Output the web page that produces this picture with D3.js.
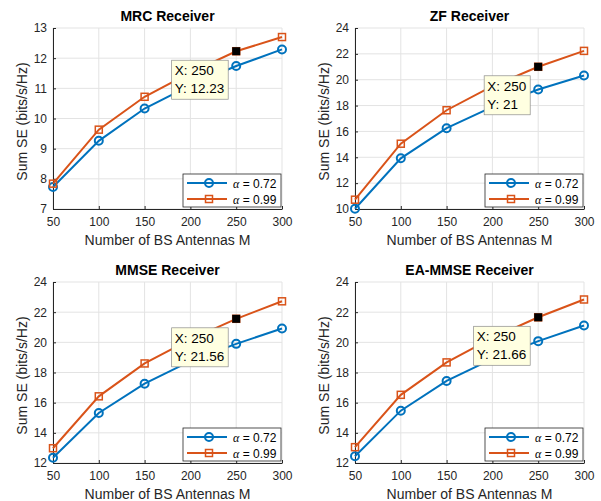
<!DOCTYPE html>
<html lang="en">
<head>
  <meta charset="UTF-8" />
  <title>Sum SE vs BS antennas</title>
  <script src="https://d3js.org/d3.v7.min.js"></script>
  <style>
    body { margin: 0; background: #fff; }
    svg { display: block; font-family: "Liberation Sans", Arial, sans-serif; }
    .tick text { fill: #262626; font-size: 12px; }
    .axis path, .axis line { stroke: #262626; }
    .grid line { stroke: #e3e3e3; }
    .title { font-size: 14px; font-weight: bold; fill: #000; }
    .axis-label { font-size: 14px; fill: #262626; }
  </style>
</head>
<body>
<svg width="601" height="501"></svg>
<script>
  // antenna counts
  const antennas = [50, 100, 150, 200, 250, 300];
  const xTicks = [50, 100, 150, 200, 250, 300];

  // series values
  const mrcA72  = [7.73, 9.26, 10.33, 11.10, 11.74, 12.29];
  const mrcA99  = [7.84, 9.63, 10.72, 11.52, 12.23, 12.70];
  const zfA72   = [10.02, 13.92, 16.25, 17.90, 19.24, 20.33];
  const zfA99   = [10.72, 15.05, 17.64, 19.50, 21.00, 22.23];
  const mmseA72 = [12.35, 15.32, 17.26, 18.75, 19.90, 20.92];
  const mmseA99 = [12.98, 16.42, 18.60, 20.20, 21.56, 22.72];
  const eaA72   = [12.45, 15.47, 17.44, 18.90, 20.08, 21.12];
  const eaA99   = [13.05, 16.52, 18.67, 20.30, 21.66, 22.84];

  const titles = ["MRC Receiver", "ZF Receiver", "MMSE Receiver", "EA-MMSE Receiver"];
  const yDomains = [[7, 13], [10, 24], [12, 24], [12, 24]];
  const yTickSets = [d3.range(7, 14, 1), d3.range(10, 25, 2), d3.range(12, 25, 2), d3.range(12, 25, 2)];
  const seriesSets = [[mrcA72, mrcA99], [zfA72, zfA99], [mmseA72, mmseA99], [eaA72, eaA99]];
  const seriesNames = ["0.72", "0.99"];
  const tipIndex = 4; // data tip on the α = 0.99 curve at M = 250

  const colors = ["#0072BD", "#D95319"];
  const svg = d3.select("svg");

  // plot-area boxes for the 2x2 grid
  const cols = [53, 355], rows = [28, 282];
  const w = 229, h = 181;

  titles.forEach((title, i) => {
    const left = cols[i % 2], top = rows[Math.floor(i / 2)];
    const g = svg.append("g").attr("transform", `translate(${left},${top})`);

    const x = d3.scaleLinear().domain([50, 300]).range([0, w]);
    const y = d3.scaleLinear().domain(yDomains[i]).range([h, 0]);

    // grid
    const grid = g.append("g").attr("class", "grid");
    grid.selectAll(".gx").data(xTicks).enter().append("line")
      .attr("x1", d => x(d)).attr("x2", d => x(d)).attr("y1", 0).attr("y2", h);
    grid.selectAll(".gy").data(yTickSets[i]).enter().append("line")
      .attr("x1", 0).attr("x2", w).attr("y1", d => y(d)).attr("y2", d => y(d));

    // axes (MATLAB style: ticks inside)
    g.append("g").attr("class", "axis")
      .attr("transform", `translate(0,${h})`)
      .call(d3.axisBottom(x).tickValues(xTicks).tickSizeInner(-3).tickSizeOuter(0).tickPadding(8));
    g.append("g").attr("class", "axis")
      .call(d3.axisLeft(y).tickValues(yTickSets[i]).tickFormat(d3.format("d"))
        .tickSizeInner(-3).tickSizeOuter(0).tickPadding(6));

    // title and labels
    g.append("text").attr("class", "title")
      .attr("x", w / 2).attr("y", -7).attr("text-anchor", "middle").text(title);
    g.append("text").attr("class", "axis-label")
      .attr("x", w / 2).attr("y", h + 36).attr("text-anchor", "middle")
      .text("Number of BS Antennas M");
    g.append("text").attr("class", "axis-label")
      .attr("transform", "rotate(-90)")
      .attr("x", -h / 2 - 3).attr("y", -26).attr("text-anchor", "middle")
      .text("Sum SE (bits/s/Hz)");

    const line = d3.line().x((d, k) => x(antennas[k])).y(d => y(d));

    seriesSets[i].forEach((vals, s) => {
      g.append("path").datum(vals)
        .attr("d", line).attr("fill", "none")
        .attr("stroke", colors[s]).attr("stroke-width", 2);
      if (s === 0) {
        g.selectAll(".c" + s).data(vals).enter().append("circle")
          .attr("cx", (d, k) => x(antennas[k])).attr("cy", d => y(d))
          .attr("r", 4).attr("fill", "none")
          .attr("stroke", colors[s]).attr("stroke-width", 2);
      } else {
        g.selectAll(".q" + s).data(vals).enter().append("rect")
          .attr("x", (d, k) => x(antennas[k]) - 3.5).attr("y", d => y(d) - 3.5)
          .attr("width", 7).attr("height", 7).attr("fill", "none")
          .attr("stroke", colors[s]).attr("stroke-width", 1.5);
      }
    });

    // data tip
    const tv = seriesSets[i][1][tipIndex];
    const px = x(antennas[tipIndex]), py = y(tv);
    g.append("rect")
      .attr("x", px - 4).attr("y", py - 4).attr("width", 8).attr("height", 8)
      .attr("fill", "#000");
    const tip = g.append("g");
    const tipLines = ["X: " + antennas[tipIndex], "Y: " + (+tv.toFixed(2))];
    const box = tip.append("rect").attr("fill", "#ffffe1")
      .attr("stroke", "#8c8c8c").attr("stroke-width", 0.7);
    const txt = tipLines.map((t, k) => tip.append("text")
      .attr("font-size", 13.5).attr("fill", "#000")
      .attr("y", py + 24 + k * 18).text(t));
    const tw = d3.max(txt, t => t.node().getComputedTextLength());
    const bx = px - 8 - (tw + 7);
    box.attr("x", bx).attr("y", py + 9).attr("width", tw + 7).attr("height", 39);
    txt.forEach(t => t.attr("x", bx + 3));

    // legend
    const lg = g.append("g").attr("transform", `translate(${w - 99},${h - 35})`);
    lg.append("rect").attr("width", 98).attr("height", 33)
      .attr("fill", "#fff").attr("stroke", "#262626").attr("stroke-width", 0.8);
    seriesNames.forEach((name, s) => {
      const cy = 9 + s * 16;
      lg.append("line").attr("x1", 4).attr("x2", 44).attr("y1", cy).attr("y2", cy)
        .attr("stroke", colors[s]).attr("stroke-width", 2);
      if (s === 0) {
        lg.append("circle").attr("cx", 26).attr("cy", cy).attr("r", 4)
          .attr("fill", "none").attr("stroke", colors[s]).attr("stroke-width", 2);
      } else {
        lg.append("rect").attr("x", 22.5).attr("y", cy - 3.5).attr("width", 7).attr("height", 7)
          .attr("fill", "none").attr("stroke", colors[s]).attr("stroke-width", 1.5);
      }
      const t = lg.append("text").attr("x", 50).attr("y", cy + 4.5)
        .attr("font-size", 12).attr("fill", "#000");
      t.append("tspan").attr("font-family", "'Liberation Serif', serif")
        .attr("font-style", "italic").text("α");
      t.append("tspan").text(" = " + name);
    });
  });
</script>
</body>
</html>
